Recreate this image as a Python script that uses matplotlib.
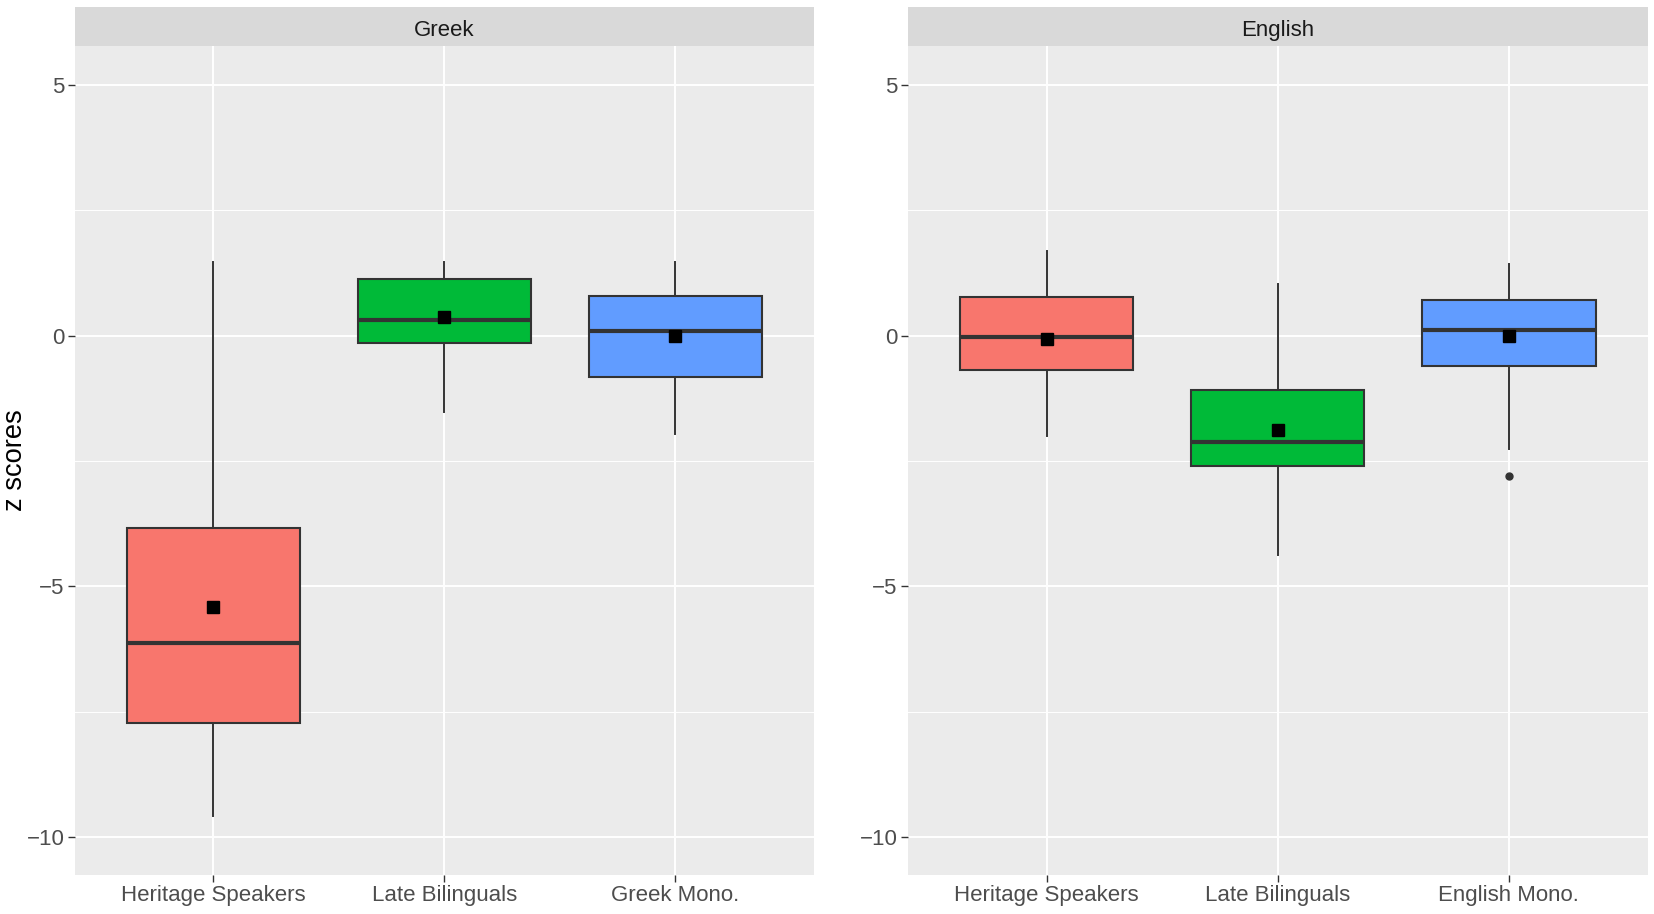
import numpy as np
import matplotlib
matplotlib.use("Agg")
import matplotlib.pyplot as plt
from matplotlib.ticker import MultipleLocator

plt.rcParams['font.family'] = ['Liberation Sans', 'DejaVu Sans']

# Data (z scores)
languages = ["Greek", "English"]
groups_greek = ["Heritage Speakers", "Late Bilinguals", "Greek Mono."]
groups_english = ["Heritage Speakers", "Late Bilinguals", "English Mono."]
colors = ["#F8766D", "#00BA38", "#619CFF"]

whishi_greek = [1.47, 1.46, 1.46]
q3_greek = [-3.83, 1.12, 0.78]
med_greek = [-6.12, 0.31, 0.09]
q1_greek = [-7.73, -0.14, -0.82]
whislo_greek = [-9.57, -1.52, -1.97]
mean_greek = [-5.41, 0.37, 0.00]
fliers_greek = [[], [], []]

whishi_english = [1.69, 1.02, 1.43]
q3_english = [0.77, -1.08, 0.70]
med_english = [-0.02, -2.12, 0.11]
q1_english = [-0.69, -2.60, -0.61]
whislo_english = [-2.00, -4.37, -2.27]
mean_english = [-0.06, -1.89, 0.00]
fliers_english = [[], [], [-2.80]]

panels = [
    (groups_greek, whishi_greek, q3_greek, med_greek, q1_greek, whislo_greek, mean_greek, fliers_greek),
    (groups_english, whishi_english, q3_english, med_english, q1_english, whislo_english, mean_english, fliers_english),
]

W, H = 1654, 914
fig = plt.figure(figsize=(W / 100, H / 100), dpi=100)

# panel geometry in pixels
panel_left = [74.6, 908.0]
panel_w = 739.5
panel_top, panel_bot = 46.0, 875.0
strip_top = 7.3

for k, (lang, data) in enumerate(zip(languages, panels)):
    groups, whishi, q3, med, q1, whislo, mean, fliers = data
    ax = fig.add_axes([panel_left[k] / W, (H - panel_bot) / H,
                       panel_w / W, (panel_bot - panel_top) / H])
    ax.set_facecolor("#EBEBEB")
    for s in ax.spines.values():
        s.set_visible(False)

    stats = []
    for i in range(len(groups)):
        stats.append(dict(med=med[i], q1=q1[i], q3=q3[i], whislo=whislo[i],
                          whishi=whishi[i], fliers=fliers[i], mean=mean[i]))
    pos = np.arange(1, len(groups) + 1)
    bp = ax.bxp(stats, positions=pos, widths=0.75, patch_artist=True,
                showcaps=False, showmeans=True, zorder=3,
                boxprops=dict(edgecolor="#333333", linewidth=1.5),
                medianprops=dict(color="#333333", linewidth=3.0, solid_capstyle="butt"),
                whiskerprops=dict(color="#333333", linewidth=1.4),
                flierprops=dict(marker="o", markerfacecolor="#333333",
                                markeredgecolor="#333333", markersize=5),
                meanprops=dict(marker="s", markerfacecolor="black",
                               markeredgecolor="black", markersize=9))
    for patch, c in zip(bp["boxes"], colors):
        patch.set_facecolor(c)

    ax.set_xlim(0.4, len(groups) + 0.6)
    ax.set_ylim(-10.75, 5.77)
    ax.set_xticks(pos)
    ax.set_xticklabels(groups)
    ax.yaxis.set_major_locator(MultipleLocator(5))
    ax.yaxis.set_minor_locator(MultipleLocator(2.5))
    ax.grid(True, which="major", color="white", linewidth=1.4, zorder=0)
    ax.grid(True, which="minor", axis="y", color="white", linewidth=0.7, zorder=0)
    ax.set_axisbelow(True)
    ax.tick_params(axis="both", which="major", length=4.9, width=1.0,
                   color="#333333", labelsize=16, labelcolor="#4D4D4D", pad=2.5)
    ax.tick_params(axis="both", which="minor", length=0)

    # facet strip
    sax = fig.add_axes([panel_left[k] / W, (H - panel_top) / H,
                        panel_w / W, (panel_top - strip_top) / H])
    sax.set_facecolor("#D9D9D9")
    sax.set_xticks([])
    sax.set_yticks([])
    for s in sax.spines.values():
        s.set_visible(False)
    sax.text(0.5, 0.266, lang, ha="center", va="baseline", fontsize=16,
             color="#1A1A1A", transform=sax.transAxes)

fig.text(15 / W, (H - (panel_top + panel_bot) / 2) / H, "z scores",
         rotation=90, ha="center", va="center", fontsize=19.6, color="black")

fig.savefig("out.png", dpi=100, facecolor="white")
